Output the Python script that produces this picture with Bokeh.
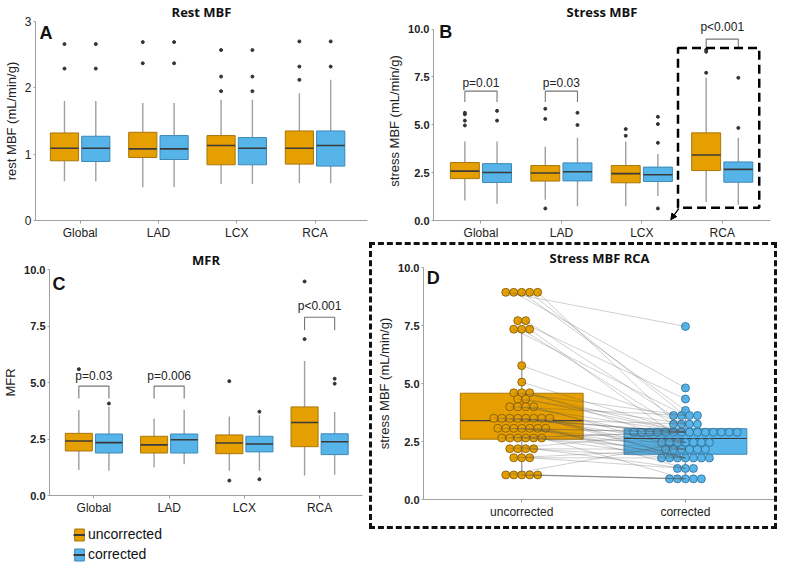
from bokeh.plotting import figure
from bokeh.models import (Range1d, FixedTicker, PrintfTickFormatter, Label, PolyAnnotation,
                          Arrow, NormalHead, Legend, LegendItem)
from bokeh.layouts import row, column
from bokeh.embed import file_html
from bokeh.resources import INLINE

# ---------------- data ----------------
categories = ["Global", "LAD", "LCX", "RCA"]
groups = ["uncorrected", "corrected"]

# Panel A: rest MBF (box stats per category)
rest_unc_lo = [0.59, 0.50, 0.55, 0.56]
rest_unc_q1 = [0.90, 0.95, 0.84, 0.85]
rest_unc_med = [1.09, 1.08, 1.13, 1.09]
rest_unc_q3 = [1.32, 1.33, 1.28, 1.35]
rest_unc_hi = [1.80, 1.77, 1.82, 1.92]
rest_unc_out = [[2.29, 2.66], [2.37, 2.69], [1.95, 2.17, 2.57], [2.12, 2.32, 2.70]]
rest_cor_lo = [0.59, 0.50, 0.55, 0.56]
rest_cor_q1 = [0.89, 0.92, 0.84, 0.82]
rest_cor_med = [1.09, 1.08, 1.09, 1.13]
rest_cor_q3 = [1.27, 1.28, 1.25, 1.35]
rest_cor_hi = [1.80, 1.77, 1.82, 2.12]
rest_cor_out = [[2.29, 2.66], [2.37, 2.69], [1.95, 2.17, 2.57], [2.32, 2.70]]

# Panel B: stress MBF
stress_unc_lo = [1.04, 1.09, 0.75, 0.97]
stress_unc_q1 = [2.19, 2.06, 1.97, 2.61]
stress_unc_med = [2.58, 2.48, 2.45, 3.42]
stress_unc_q3 = [3.03, 2.87, 2.87, 4.58]
stress_unc_hi = [4.13, 3.85, 4.13, 7.46]
stress_unc_out = [[4.97, 5.22, 5.55, 5.63], [0.63, 5.31, 5.84], [4.43, 4.78], [7.72, 8.82, 8.92]]
stress_cor_lo = [0.87, 0.75, 1.28, 0.82]
stress_cor_q1 = [1.99, 2.07, 2.04, 2.00]
stress_cor_med = [2.51, 2.55, 2.39, 2.67]
stress_cor_q3 = [2.97, 3.01, 2.79, 3.06]
stress_cor_hi = [4.13, 4.33, 3.48, 4.33]
stress_cor_out = [[5.22, 5.73], [4.99, 5.63], [0.63, 4.06, 5.04, 5.42], [4.84, 7.46]]
stress_p_cat = [0, 1, 3]
stress_p_text = ["p=0.01", "p=0.03", "p<0.001"]
stress_p_lo = [6.19, 6.19, 9.04]
stress_p_hi = [6.76, 6.76, 9.48]
stress_p_y = [7.20, 7.20, 10.12]

# Panel C: MFR
mfr_unc_lo = [1.13, 1.24, 1.09, 0.88]
mfr_unc_q1 = [1.97, 1.88, 1.85, 2.16]
mfr_unc_med = [2.41, 2.24, 2.32, 3.23]
mfr_unc_q3 = [2.75, 2.62, 2.68, 3.92]
mfr_unc_hi = [3.78, 3.41, 3.50, 5.95]
mfr_unc_out = [[5.59], [], [0.66, 5.06], [6.92, 9.47]]
mfr_cor_lo = [1.10, 1.38, 1.10, 0.92]
mfr_cor_q1 = [1.88, 1.88, 1.93, 1.81]
mfr_cor_med = [2.34, 2.47, 2.28, 2.38]
mfr_cor_q3 = [2.72, 2.72, 2.62, 2.73]
mfr_cor_hi = [3.93, 3.78, 3.55, 3.70]
mfr_cor_out = [[4.07], [], [0.72, 3.71], [4.95, 5.17]]
mfr_p_cat = [0, 1, 3]
mfr_p_text = ["p=0.03", "p=0.006", "p<0.001"]
mfr_p_lo = [4.29, 4.29, 7.31]
mfr_p_hi = [4.84, 4.84, 7.89]
mfr_p_y = [5.29, 5.29, 8.37]

# Panel D: paired stress MBF in RCA
rca_uncorrected = [8.93, 8.93, 8.93, 8.93, 8.93, 7.71, 7.71, 7.34, 7.34, 7.34, 5.77, 5.06,
                   4.60, 4.60, 4.60, 4.33, 4.33, 4.00, 4.00, 4.00, 4.00,
                   3.50, 3.50, 3.50, 3.50, 3.50, 3.50, 3.50, 3.50,
                   3.07, 3.07, 3.07, 3.07, 3.07, 3.07, 3.07,
                   2.65, 2.65, 2.65, 2.65, 2.65, 2.65, 2.19, 2.19, 2.19, 2.19,
                   1.80, 1.80, 1.80, 1.06, 1.06, 1.06, 1.06, 1.06]
rca_corrected = [7.46, 4.81, 3.84, 3.62, 2.90, 4.33, 3.25, 3.62, 2.90, 2.46, 3.25, 2.90,
                 3.62, 2.90, 2.46, 3.25, 2.90, 3.62, 2.90, 2.46, 2.16,
                 3.25, 2.90, 2.90, 2.90, 2.46, 2.16, 1.79, 1.79,
                 2.90, 2.90, 2.46, 2.16, 1.79, 1.79, 1.34,
                 2.90, 2.90, 2.46, 2.16, 1.79, 0.89, 2.90, 2.16, 1.79, 1.34,
                 2.16, 1.79, 1.34, 2.46, 0.89, 0.89, 0.89, 0.89]
rca_box_lo = [1.06, 0.89]
rca_box_q1 = [2.60, 1.95]
rca_box_med = [3.40, 2.63]
rca_box_q3 = [4.58, 3.05]
rca_box_hi = [7.34, 3.84]

ab_ticks = [0, 1, 2, 3]
mbf_ticks = [0, 2.5, 5, 7.5, 10]

# ---------------- style ----------------
ORANGE, ORANGE_LINE = "#E69F00", "#A8760C"
BLUE, BLUE_LINE = "#56B4E9", "#3A88B8"
MEDIAN = "#3a3a3a"
WHISK = "#a0a0a0"
AXIS = "#a0a0a0"
FONT = "Liberation Sans"
TFONT = "Open Sans"


def make_fig(w, h, xr, yr, title, mbl, mbr, mbt, mbb):
    p = figure(width=w, height=h, x_range=Range1d(*xr), y_range=Range1d(*yr),
               output_backend="svg", toolbar_location=None,
               min_border_left=mbl, min_border_right=mbr,
               min_border_top=mbt, min_border_bottom=mbb)
    p.title.text = title
    p.title.align = "center"
    p.title.text_font = TFONT
    p.title.text_font_size = "13px"
    p.title.text_font_style = "bold"
    p.title.text_color = "#111111"
    p.title.standoff = 1
    p.title.offset = 0
    p.outline_line_color = None
    p.grid.visible = False
    for ax in p.axis:
        ax.axis_line_color = AXIS
        ax.major_tick_line_color = AXIS
        ax.minor_tick_line_color = None
        ax.major_tick_in = 0
        ax.major_label_text_font = FONT
        ax.major_label_text_color = "#222222"
        ax.axis_label_text_font = FONT
        ax.axis_label_text_font_style = "normal"
        ax.axis_label_text_font_size = "13px"
        ax.axis_label_text_color = "#222222"
    p.xaxis.major_tick_out = 3
    p.xaxis.major_label_standoff = 2
    p.xaxis.major_label_text_font_size = "12px"
    p.yaxis.major_tick_out = 2
    p.yaxis.major_label_standoff = 2
    p.yaxis.axis_label_standoff = 3
    return p


def cat_axis(p):
    p.xaxis.ticker = FixedTicker(ticks=list(range(len(categories))))
    p.xaxis.major_label_overrides = {i: c for i, c in enumerate(categories)}


def boxes(p, lo, q1, med, q3, hi, out, off, fill, line, width=0.36):
    x = [i + off for i in range(len(q1))]
    p.segment(x0=x, y0=q3, x1=x, y1=hi, line_color=WHISK, line_width=1.4)
    p.segment(x0=x, y0=lo, x1=x, y1=q1, line_color=WHISK, line_width=1.4)
    p.vbar(x=x, width=width, bottom=q1, top=q3, fill_color=fill, line_color=line, line_width=1)
    p.segment(x0=[v - width / 2 for v in x], y0=med, x1=[v + width / 2 for v in x], y1=med,
              line_color=MEDIAN, line_width=1.6)
    ox = [x[i] for i, o in enumerate(out) for _ in o]
    oy = [v for o in out for v in o]
    p.scatter(ox, oy, size=3, color="#333333")


def brackets(p, cats, lo, hi, ty, texts):
    xs = [[c - 0.2, c - 0.2, c + 0.2, c + 0.2] for c in cats]
    ys = [[l, h, h, l] for l, h in zip(lo, hi)]
    p.multi_line(xs=xs, ys=ys, line_color="#777777", line_width=1.1)
    for c, y, t in zip(cats, ty, texts):
        p.add_layout(Label(x=c, y=y, text=t, text_align="center", text_baseline="middle",
                           text_font=FONT, text_font_size="12px", text_color="#222222"))


def letter(p, x, y, t):
    p.add_layout(Label(x=x, y=y, text=t, text_align="left", text_baseline="top",
                       text_font=FONT, text_font_size="18px", text_font_style="bold",
                       text_color="#111111"))


# ---------------- Panel A ----------------
pA = make_fig(384, 242, (-0.57, 3.67), (0, 3), "Rest MBF", 32, 17, 0, 17)
cat_axis(pA)
pA.yaxis.ticker = FixedTicker(ticks=ab_ticks)
pA.yaxis.major_label_text_font_size = "12px"
pA.yaxis.axis_label = "rest MBF (mL/min/g)"
boxes(pA, rest_unc_lo, rest_unc_q1, rest_unc_med, rest_unc_q3, rest_unc_hi, rest_unc_out, -0.2, ORANGE, ORANGE_LINE)
boxes(pA, rest_cor_lo, rest_cor_q1, rest_cor_med, rest_cor_q3, rest_cor_hi, rest_cor_out, 0.2, BLUE, BLUE_LINE)
letter(pA, -0.52, 2.97, "A")

# ---------------- Panel B ----------------
pB = make_fig(393, 242, (-0.59, 3.6), (0, 10.4), "Stress MBF", 38, 7, 0, 17)
cat_axis(pB)
pB.yaxis.ticker = FixedTicker(ticks=mbf_ticks)
pB.yaxis.bounds = (0, 10)
pB.yaxis.formatter = PrintfTickFormatter(format="%.1f")
pB.yaxis.major_label_text_font_size = "11px"
pB.yaxis.major_label_text_font_style = "bold"
pB.yaxis.axis_label = "stress MBF (mL/min/g)"
boxes(pB, stress_unc_lo, stress_unc_q1, stress_unc_med, stress_unc_q3, stress_unc_hi, stress_unc_out, -0.2, ORANGE, ORANGE_LINE)
boxes(pB, stress_cor_lo, stress_cor_q1, stress_cor_med, stress_cor_q3, stress_cor_hi, stress_cor_out, 0.2, BLUE, BLUE_LINE)
brackets(pB, stress_p_cat, stress_p_lo, stress_p_hi, stress_p_y, stress_p_text)
letter(pB, -0.52, 10.35, "B")
# dashed highlight around RCA and arrow pointing to panel D
rca = categories.index("RCA")
pB.add_layout(PolyAnnotation(xs=[rca - 0.55, rca + 0.46, rca + 0.46, rca - 0.55],
                             ys=[9.01, 9.01, 0.67, 0.67], fill_alpha=0,
                             line_color="black", line_alpha=1.0, line_width=2.5, line_dash="9 5"))
pB.add_layout(Arrow(end=NormalHead(size=6, fill_color="black", line_color="black"),
                    x_start=rca - 0.54, y_start=0.62, x_end=rca - 0.64, y_end=0.04,
                    line_color="black", line_width=1.3))

# ---------------- Panel C ----------------
pC = make_fig(369, 282, (-0.59, 3.57), (0, 10), "MFR", 32, 7, 27, 29)
cat_axis(pC)
pC.yaxis.ticker = FixedTicker(ticks=mbf_ticks)
pC.yaxis.formatter = PrintfTickFormatter(format="%.1f")
pC.yaxis.major_label_text_font_size = "11px"
pC.yaxis.major_label_text_font_style = "bold"
pC.yaxis.axis_label = "MFR"
boxes(pC, mfr_unc_lo, mfr_unc_q1, mfr_unc_med, mfr_unc_q3, mfr_unc_hi, mfr_unc_out, -0.2, ORANGE, ORANGE_LINE)
boxes(pC, mfr_cor_lo, mfr_cor_q1, mfr_cor_med, mfr_cor_q3, mfr_cor_hi, mfr_cor_out, 0.2, BLUE, BLUE_LINE)
brackets(pC, mfr_p_cat, mfr_p_lo, mfr_p_hi, mfr_p_y, mfr_p_text)
letter(pC, -0.55, 9.78, "C")

# ---------------- Legend ----------------
pL = figure(width=369, height=38, x_range=Range1d(0, 1), y_range=Range1d(0, 1),
            output_backend="svg", toolbar_location=None,
            x_axis_location=None, y_axis_location=None,
            min_border_left=0, min_border_right=0, min_border_top=0, min_border_bottom=0)
pL.outline_line_color = None
pL.grid.visible = False
items = []
for g, f, l in zip(groups, [ORANGE, BLUE], [ORANGE_LINE, BLUE_LINE]):
    r1 = pL.rect(x=[-10], y=[-10], width=1, height=1, fill_color=f, line_color=l, line_width=1)
    r2 = pL.line(x=[-10, -9], y=[-10, -10], line_color=MEDIAN, line_width=2)
    items.append(LegendItem(label=g, renderers=[r1, r2]))
leg = Legend(items=items, location=(24, 0), border_line_color=None, background_fill_alpha=0,
             label_text_font=FONT, label_text_font_size="14px",
             label_text_color="#111111", glyph_width=12, glyph_height=15,
             label_standoff=3, spacing=4, padding=0, margin=0, label_height=15)
pL.add_layout(leg)

# ---------------- Panel D ----------------
pD = make_fig(408, 287, (-0.6, 1.55), (0, 10), "Stress MBF RCA", 51, 5, 22, 33)
pD.styles = {"border": "3px dashed #111111"}
pD.xaxis.ticker = FixedTicker(ticks=[0, 1])
pD.xaxis.major_label_overrides = {0: groups[0], 1: groups[1]}
pD.yaxis.ticker = FixedTicker(ticks=mbf_ticks)
pD.yaxis.formatter = PrintfTickFormatter(format="%.1f")
pD.yaxis.major_label_text_font_size = "11px"
pD.yaxis.major_label_text_font_style = "bold"
pD.yaxis.axis_label = "stress MBF (mL/min/g)"

bw = 0.75
pD.segment(x0=[0, 1], y0=rca_box_q3, x1=[0, 1], y1=rca_box_hi, line_color=WHISK, line_width=1.4)
pD.segment(x0=[0, 1], y0=rca_box_lo, x1=[0, 1], y1=rca_box_q1, line_color=WHISK, line_width=1.4)
pD.vbar(x=[0, 1], width=bw, bottom=rca_box_q1, top=rca_box_q3,
        fill_color=[ORANGE, BLUE], line_color=[ORANGE_LINE, BLUE_LINE], line_width=1)
pD.segment(x0=[-bw / 2, 1 - bw / 2], y0=rca_box_med, x1=[bw / 2, 1 + bw / 2], y1=rca_box_med,
           line_color=MEDIAN, line_width=1.2)


def swarm_x(vals, center, dx=0.0487):
    xs = [0.0] * len(vals)
    groups_by_val = {}
    for i, v in enumerate(vals):
        groups_by_val.setdefault(v, []).append(i)
    for v, ids in groups_by_val.items():
        n = len(ids)
        for k, i in enumerate(ids):
            xs[i] = center + (k - (n - 1) / 2) * dx
    return xs


ux = swarm_x(rca_uncorrected, 0)
cx = swarm_x(rca_corrected, 1)
pD.scatter(ux, rca_uncorrected, size=8, fill_color=ORANGE, line_color="#7a5608", line_width=0.8)
pD.scatter(cx, rca_corrected, size=8, fill_color=BLUE, line_color="#2b6a92", line_width=0.8)
pD.multi_line(xs=[[a, 1.0] for a in ux], ys=[[u, c] for u, c in zip(rca_uncorrected, rca_corrected)],
              line_color="#555555", line_alpha=0.35, line_width=0.8)
letter(pD, -0.58, 9.97, "D")

layout = column(row(pA, pB), row(column(pC, pL), pD))
open("out.html", "w").write(file_html(layout, INLINE))
